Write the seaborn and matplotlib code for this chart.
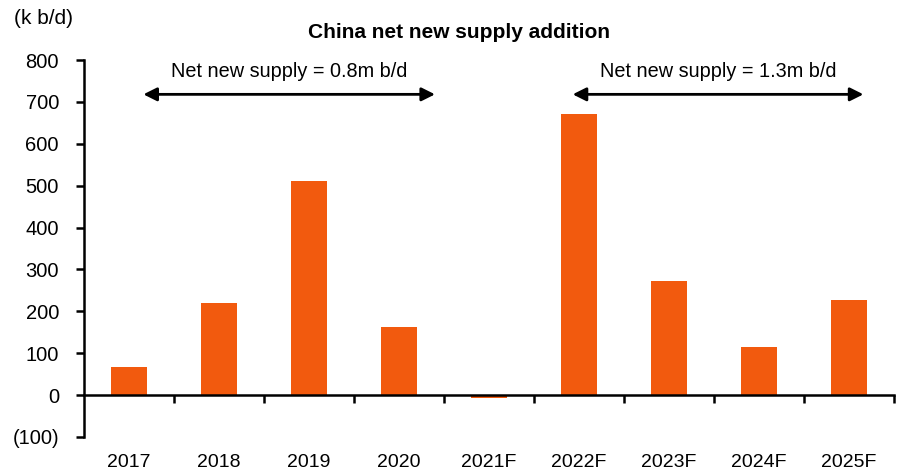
import matplotlib
matplotlib.use("Agg")
import matplotlib.pyplot as plt
import matplotlib.transforms as mtransforms
from matplotlib.ticker import FixedLocator, FuncFormatter
import seaborn as sns
import pandas as pd

years = ["2017", "2018", "2019", "2020", "2021F", "2022F", "2023F", "2024F", "2025F"]
additions = [68, 221, 511, 162, -6, 670, 273, 114, 227]
y_ticks = [-100, 0, 100, 200, 300, 400, 500, 600, 700, 800]

spans = [
    {"start": 0.16, "end": 3.40, "label": "Net new supply = 0.8m b/d"},
    {"start": 4.93, "end": 8.16, "label": "Net new supply = 1.3m b/d"},
]

sns.set_style("ticks")
plt.rcParams["font.family"] = ["Liberation Sans", "DejaVu Sans"]
plt.rcParams["text.color"] = "black"

df = pd.DataFrame({"year": years, "kbd": additions})

fig = plt.figure(figsize=(8.98, 4.74), dpi=100)
ax = fig.add_axes([84 / 898, 1 - 437 / 474, 810 / 898, 377 / 474])

sns.barplot(data=df, x="year", y="kbd", color="#F25A0E", saturation=1,
            width=0.4, ax=ax, edgecolor="none")

ax.set_xlim(-0.5, len(years) - 0.5)
ax.set_ylim(-100, 800)

# y axis
ax.yaxis.set_major_locator(FixedLocator(y_ticks))
ax.yaxis.set_major_formatter(FuncFormatter(
    lambda v, p: f"({abs(int(v))})" if v < 0 else f"{int(v)}"))
ax.tick_params(axis="y", direction="out", length=6, width=1.8, pad=12,
               labelsize=14.5, colors="black", labelcolor="black")
ax.set_ylabel("")
ax.set_xlabel("")

# x axis drawn at zero with ticks between categories
ax.spines["bottom"].set_position(("data", 0))
ax.spines["top"].set_visible(False)
ax.spines["right"].set_visible(False)
for s in ("left", "bottom"):
    ax.spines[s].set_linewidth(1.8)
    ax.spines[s].set_color("black")
ax.set_xticks(range(len(years)))
ax.set_xticklabels([])
ax.tick_params(axis="x", which="major", length=0)
ax.xaxis.set_minor_locator(FixedLocator([i + 0.5 for i in range(len(years))]))
ax.tick_params(axis="x", which="minor", direction="out", length=6, width=1.8,
               colors="black")

trans = mtransforms.blended_transform_factory(ax.transData, ax.transAxes)
for i, y in enumerate(years):
    ax.text(i, -0.068, y, transform=trans, ha="center", va="center",
            fontsize=14, color="black")

# span arrows with labels
for sp in spans:
    ax.annotate("", xy=(sp["end"], 718), xytext=(sp["start"], 718),
                arrowprops=dict(arrowstyle="<|-|>", color="black", lw=2,
                                mutation_scale=20, shrinkA=0, shrinkB=0),
                annotation_clip=False)
    ax.text((sp["start"] + sp["end"]) / 2, 772, sp["label"], ha="center",
            va="center", fontsize=14.3, color="black")

fig.text(459 / 898, 1 - 32 / 474, "China net new supply addition",
         ha="center", va="center", fontsize=15, fontweight="bold",
         color="black")
fig.text(43 / 898, 1 - 19 / 474, "(k b/d)", ha="center", va="center",
         fontsize=15, color="black")

fig.savefig("out.png", dpi=100)
